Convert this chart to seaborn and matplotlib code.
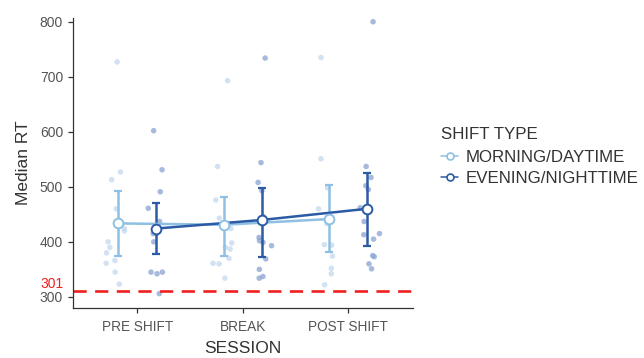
import numpy as np
import pandas as pd
import seaborn as sns
import matplotlib.pyplot as plt
from matplotlib.lines import Line2D

# ---------------- data ----------------
sessions = ["PRE SHIFT", "BREAK", "POST SHIFT"]
shift_types = ["MORNING/DAYTIME", "EVENING/NIGHTTIME"]

morning_pre = [727, 527, 513, 460, 424, 420, 400, 390, 380, 366, 361, 345, 323]
morning_break = [693, 537, 476, 443, 424, 398, 390, 387, 370, 360, 361, 334]
morning_post = [735, 551, 498, 460, 433, 395, 394, 374, 352, 342, 322]

evening_pre = [602, 531, 491, 461, 437, 415, 415, 400, 345, 342, 345, 306]
evening_break = [734, 544, 508, 493, 446, 408, 402, 399, 393, 369, 350, 334, 337]
evening_post = [800, 537, 517, 502, 495, 462, 437, 415, 413, 405, 375, 373, 360, 351]

# error bar bounds (per session)
ci_low_morning = [374.5, 374.5, 381]
ci_high_morning = [493, 482, 503]
ci_low_evening = [377.6, 373, 393]
ci_high_evening = [470, 497.6, 526]

threshold_value = 311
threshold_label = "301"

yticks = [300, 400, 500, 600, 700, 800]

# ---------------- table ----------------
rows = []
for sess, vals in zip(sessions, [morning_pre, morning_break, morning_post]):
    rows += [(sess, shift_types[0], v) for v in vals]
for sess, vals in zip(sessions, [evening_pre, evening_break, evening_post]):
    rows += [(sess, shift_types[1], v) for v in vals]
df = pd.DataFrame(rows, columns=["session", "shift", "rt"])

# ---------------- style ----------------
sns.set_theme(style="ticks")
plt.rcParams["font.family"] = ["Liberation Sans", "DejaVu Sans"]
text_grey = "#555555"

pt_colors = {shift_types[0]: "#c3d9ef", shift_types[1]: "#8aa3d2"}
line_colors = {shift_types[0]: "#8dc0e2", shift_types[1]: "#2c5ba6"}

fig = plt.figure(figsize=(6.44, 3.58), dpi=100)
ax = fig.add_axes([0.113, 0.14, 0.528, 0.81])

np.random.seed(3)
sns.stripplot(data=df, x="session", y="rt", hue="shift", order=sessions,
              hue_order=shift_types, dodge=True, jitter=0.2, palette=pt_colors,
              size=4, alpha=0.75, linewidth=0, legend=False, ax=ax, zorder=1)

sns.pointplot(data=df, x="session", y="rt", hue="shift", order=sessions,
              hue_order=shift_types, dodge=0.36, errorbar=None,
              palette=line_colors, markers="", linestyles="-",
              linewidth=1.8, legend=False, ax=ax)

mean_lines = [l for l in ax.lines if len(l.get_xdata()) == len(sessions)]
lows = [ci_low_morning, ci_low_evening]
highs = [ci_high_morning, ci_high_evening]
for line, st, lo, hi in zip(mean_lines, shift_types, lows, highs):
    line.set_zorder(4)
    x = np.asarray(line.get_xdata(), dtype=float)
    y = np.asarray(line.get_ydata(), dtype=float)
    lo = np.asarray(lo); hi = np.asarray(hi)
    ax.errorbar(x, y, yerr=[y - lo, hi - y], fmt="none", ecolor=line_colors[st],
                elinewidth=1.8, capsize=2.6, capthick=1.6, zorder=3)
    ax.plot(x, y, "o", mfc="white", mec=line_colors[st], mew=1.4, ms=7, zorder=6)

# threshold
ax.axhline(threshold_value, color="#f02020", lw=1.9, ls=(0, (5, 3.2)), zorder=2)
ax.annotate(threshold_label, xy=(0, threshold_value),
            xycoords=ax.get_yaxis_transform(), xytext=(-7, -0.3),
            textcoords="offset points", color="#f02020", fontsize=10,
            ha="right", va="bottom")

ax.set_xlim(-0.61, 2.61)
ax.set_ylim(280, 807)
ax.set_yticks(yticks)
ax.set_xlabel("SESSION", fontsize=12.5, color="#333333", labelpad=5)
ax.set_ylabel("Median RT", fontsize=12.5, color="#333333", labelpad=6)
ax.tick_params(axis="both", colors="#333333", labelcolor=text_grey,
               length=3.5, width=0.9)
ax.tick_params(axis="x", pad=5, labelsize=9.8)
ax.tick_params(axis="y", labelsize=10)
for s in ["left", "bottom"]:
    ax.spines[s].set_color("#333333")
    ax.spines[s].set_linewidth(0.9)
sns.despine(ax=ax)

handles = [Line2D([0], [0], color=line_colors[st], lw=1.1, marker="o",
                  mfc="white", mec=line_colors[st], mew=1.2, ms=5)
           for st in shift_types]
leg = fig.legend(handles, shift_types, title="SHIFT TYPE", loc="upper left",
                 bbox_to_anchor=(0.685, 0.645), frameon=False, fontsize=12.2,
                 title_fontsize=12.2, handlelength=1.0, handletextpad=0.45,
                 labelspacing=0.3, borderaxespad=0, borderpad=0)
leg._legend_box.align = "left"
leg._legend_box.sep = 6
for t in leg.get_texts():
    t.set_color("#333333")
leg.get_title().set_color("#333333")

fig.savefig("out.png", dpi=100)
